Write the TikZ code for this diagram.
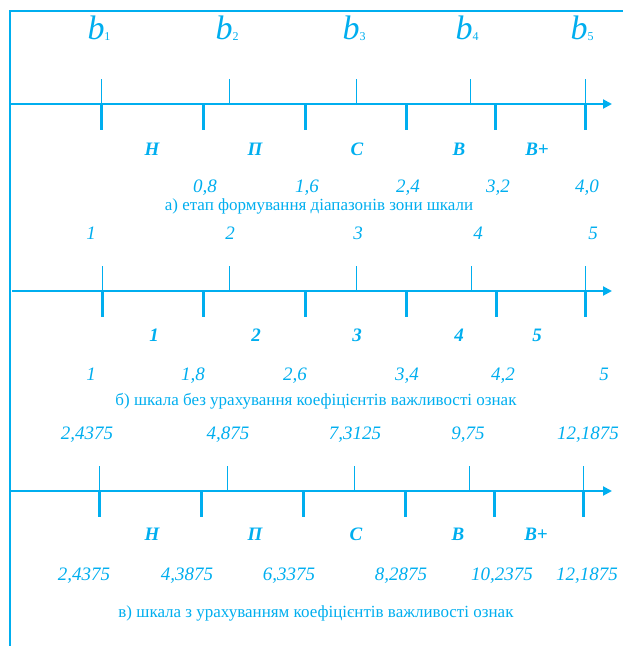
\documentclass[tikz,border=0pt]{standalone}
\usepackage{fontspec}
\setmainfont{Liberation Serif}
\usetikzlibrary{arrows.meta}
\definecolor{cy}{HTML}{00AEEF}
\begin{document}
\begin{tikzpicture}[x=1pt,y=-1pt,
  axisline/.style={cy,line width=2pt,-{Triangle[length=9pt,width=9pt]}},
  thintick/.style={cy,line width=0.8pt},
  thicktick/.style={cy,line width=3pt},
  num/.style={text=cy,font=\fontsize{19}{19}\selectfont\itshape,inner sep=0pt,anchor=base},
  zone/.style={text=cy,font=\fontsize{19}{19}\selectfont\bfseries\itshape,inner sep=0pt,anchor=base},
  captxt/.style={text=cy,font=\fontsize{17}{17}\selectfont,inner sep=0pt},
  blab/.style={text=cy,font=\fontsize{34}{34}\selectfont\itshape,inner sep=0pt,anchor=base}]
\useasboundingbox (0,0) rectangle (623,646);
% frame
\draw[cy,line width=2.5pt] (10,646) -- (10,11) -- (623,11);
% ---------- axis a
\coordinate (a0) at (10,104); \coordinate (a1) at (612,104);
\draw[axisline] (a0) -- (a1);
\foreach \x in {101,229,356,470,585} \draw[thintick] (\x,79) -- (\x,104);
\foreach \x in {101,203,305,406,495,585} \draw[thicktick] (\x,104) -- (\x,130);
\node[blab] (b1) at (99,39) {b\fontsize{12}{12}\selectfont\upshape\raisebox{-1pt}{1}};
\node[blab] (b2) at (227,39) {b\fontsize{12}{12}\selectfont\upshape\raisebox{-1pt}{2}};
\node[blab] (b3) at (354,39) {b\fontsize{12}{12}\selectfont\upshape\raisebox{-1pt}{3}};
\node[blab] (b4) at (467,39) {b\fontsize{12}{12}\selectfont\upshape\raisebox{-1pt}{4}};
\node[blab] (b5) at (582,39) {b\fontsize{12}{12}\selectfont\upshape\raisebox{-1pt}{5}};
\node[zone] (za1) at (152,155) {Н};
\node[zone] (za2) at (255,155) {П};
\node[zone] (za3) at (357,155) {С};
\node[zone] (za4) at (459,155) {В};
\node[zone] (za5) at (537,155) {В+};
\node[num] (na1) at (205,192) {0,8};
\node[num] (na2) at (307,192) {1,6};
\node[num] (na3) at (408,192) {2,4};
\node[num] (na4) at (498,192) {3,2};
\node[num] (na5) at (587,192) {4,0};
\node[captxt] (capa) at (319,206) {а) етап формування діапазонів зони шкали};
\node[num] (ra1) at (91,239) {1};
\node[num] (ra2) at (230,239) {2};
\node[num] (ra3) at (358,239) {3};
\node[num] (ra4) at (478,239) {4};
\node[num] (ra5) at (593,239) {5};
% ---------- axis b
\coordinate (c0) at (12,291); \coordinate (c1) at (612,291);
\draw[axisline] (c0) -- (c1);
\foreach \x in {102,229,356,471,585} \draw[thintick] (\x,266) -- (\x,291);
\foreach \x in {102,203,305,406,496,585} \draw[thicktick] (\x,291) -- (\x,317);
\node[zone] (zb1) at (154,341) {1};
\node[zone] (zb2) at (256,341) {2};
\node[zone] (zb3) at (357,341) {3};
\node[zone] (zb4) at (459,341) {4};
\node[zone] (zb5) at (537,341) {5};
\node[num] (nb1) at (91,380) {1};
\node[num] (nb2) at (193,380) {1,8};
\node[num] (nb3) at (295,380) {2,6};
\node[num] (nb4) at (407,380) {3,4};
\node[num] (nb5) at (503,380) {4,2};
\node[num] (nb6) at (604,380) {5};
\node[captxt] (capb) at (316,401) {б) шкала без урахування коефіцієнтів важливості ознак};
\node[num] (rb1) at (87,439) {2,4375};
\node[num] (rb2) at (228,439) {4,875};
\node[num] (rb3) at (355,439) {7,3125};
\node[num] (rb4) at (468,439) {9,75};
\node[num] (rb5) at (588,439) {12,1875};
% ---------- axis c
\coordinate (e0) at (10,491); \coordinate (e1) at (612,491);
\draw[axisline] (e0) -- (e1);
\foreach \x in {99,227,354,469,583} \draw[thintick] (\x,466) -- (\x,491);
\foreach \x in {99,201,303,405,494,583} \draw[thicktick] (\x,491) -- (\x,517);
\node[zone] (zc1) at (152,540) {Н};
\node[zone] (zc2) at (255,540) {П};
\node[zone] (zc3) at (356,540) {С};
\node[zone] (zc4) at (458,540) {В};
\node[zone] (zc5) at (536,540) {В+};
\node[num] (nc1) at (84,580) {2,4375};
\node[num] (nc2) at (187,580) {4,3875};
\node[num] (nc3) at (289,580) {6,3375};
\node[num] (nc4) at (401,580) {8,2875};
\node[num] (nc5) at (502,580) {10,2375};
\node[num] (nc6) at (587,580) {12,1875};
\node[captxt] (capc) at (316,613) {в) шкала з урахуванням коефіцієнтів важливості ознак};
\end{tikzpicture}
\end{document}
